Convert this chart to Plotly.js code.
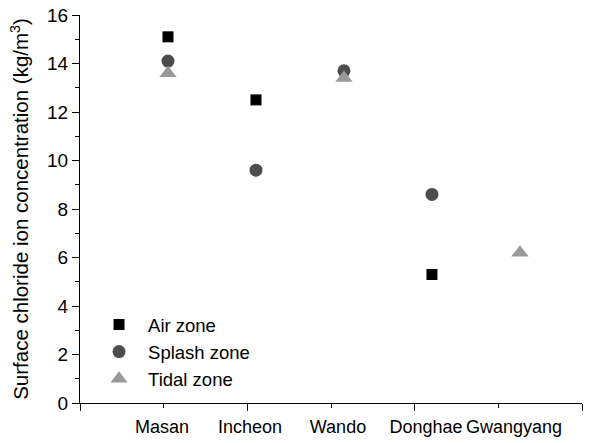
<!DOCTYPE html>
<html>
<head>
<meta charset="utf-8">
<script src="https://cdn.plot.ly/plotly-3.0.1.min.js"></script>
<style>html,body{margin:0;padding:0;background:#fff;}#chart{width:609px;height:443px;}</style>
</head>
<body>
<div id="chart"></div>
<script>
const sites = ["Masan", "Incheon", "Wando", "Donghae", "Gwangyang"];
const airZone = [15.1, 12.5, null, 5.3, null];
const splashZone = [14.1, 9.6, 13.7, 8.6, null];
const tidalZone = [13.6, null, 13.4, null, 6.2];
const yTitle = "Surface chloride ion concentration (kg/m<sup>3</sup>)";

const font = "Liberation Sans, Arial, sans-serif";
const traces = [
  {x: sites, y: airZone, name: "Air zone", type: "scatter", mode: "markers",
   marker: {symbol: "square", size: 11, color: "#000000"}},
  {x: sites, y: splashZone, name: "Splash zone", type: "scatter", mode: "markers",
   marker: {symbol: "circle", size: 13, color: "#4d4d4d"}},
  {x: sites, y: tidalZone, name: "Tidal zone", type: "scatter", mode: "markers",
   marker: {symbol: "triangle-up", size: 15, color: "#999999"}},
  // invisible trace to activate the tick-only overlay axis
  {x: [0, 6], y: [null, null], xaxis: "x2", type: "scatter", mode: "markers",
   showlegend: false, hoverinfo: "skip"}
];

const layout = {
  width: 609, height: 443,
  margin: {l: 80, r: 27, t: 15, b: 40},
  paper_bgcolor: "#ffffff", plot_bgcolor: "#ffffff",
  font: {family: font, size: 19, color: "#000"},
  showlegend: true,
  legend: {x: 0.02, y: 0.25, xanchor: "left", yanchor: "top",
           bgcolor: "rgba(0,0,0,0)", font: {family: font, size: 18.5},
           tracegroupgap: 0, itemwidth: 48},
  xaxis: {
    type: "category", range: [-1.0, 4.705],
    showline: true, linecolor: "#000", linewidth: 1,
    showgrid: false, zeroline: false, ticks: "",
    tickangle: 0, ticklabelshift: -6, ticklabelstandoff: 7,
    tickfont: {family: font, size: 18, color: "#000"}
  },
  xaxis2: {
    overlaying: "x", anchor: "y", side: "bottom",
    range: [0, 6], showgrid: false, zeroline: false, showline: false,
    showticklabels: false, ticks: "outside", dtick: 2, tick0: 0,
    ticklen: 7, tickwidth: 1, tickcolor: "#000",
    minor: {dtick: 1, ticks: "outside", ticklen: 4, tickwidth: 1, tickcolor: "#000", showgrid: false}
  },
  yaxis: {
    range: [0, 16], dtick: 2, tick0: 0,
    showline: true, linecolor: "#000", linewidth: 1,
    showgrid: false, zeroline: false,
    ticks: "outside", ticklen: 7, tickwidth: 1, tickcolor: "#000",
    minor: {dtick: 1, ticks: "outside", ticklen: 4, tickwidth: 1, tickcolor: "#000", showgrid: false},
    tickfont: {family: font, size: 19, color: "#000"},
    title: {text: yTitle, font: {family: font, size: 20.5, color: "#000"}, standoff: 12}
  }
};

Plotly.newPlot("chart", traces, layout, {displayModeBar: false, staticPlot: true});
</script>
</body>
</html>
